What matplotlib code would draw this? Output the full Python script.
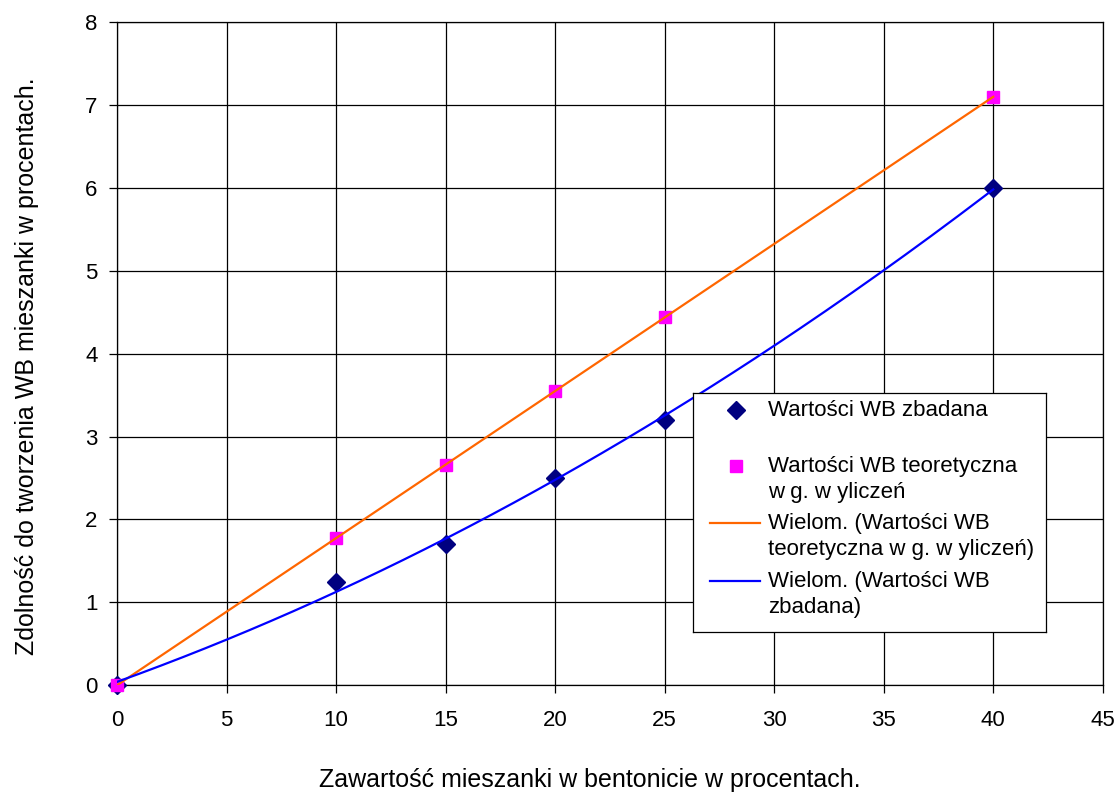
import matplotlib.pyplot as plt
from matplotlib.lines import Line2D
import numpy as np

plt.rcParams['font.family'] = ['Liberation Sans', 'DejaVu Sans']

# udzial bentonitu w mieszance [%]
x_zbad = [0, 10, 15, 20, 25, 40]
y_zbad = [0, 1.25, 1.7, 2.5, 3.2, 6.0]
x_teor = [0, 10, 15, 20, 25, 40]
y_teor = [0, 1.775, 2.6625, 3.55, 4.4375, 7.1]

lab_zbad = 'Wartości WB zbadana'
lab_teor = 'Wartości WB teoretyczna\nw g. w yliczeń'
lab_fit_teor = 'Wielom. (Wartości WB\nteoretyczna w g. w yliczeń)'
lab_fit_zbad = 'Wielom. (Wartości WB\nzbadana)'

c_zbad = '#000080'
c_teor = '#FF00FF'
c_fit_teor = '#FF6600'
c_fit_zbad = '#0000FF'

fs_tick = 16
fs_lab = 18
fs_leg = 16

fig = plt.figure(figsize=(11.15, 7.94), dpi=100)
ax = fig.add_axes([0.105, 0.137, 0.884, 0.835])

# trendline wielomianowa (2 stopnia), jak w Excelu
xx = np.linspace(0, 40, 200)
p_t = np.polyfit(x_teor, y_teor, 2)
p_z = np.polyfit(x_zbad, y_zbad, 2)

ax.plot(x_zbad, y_zbad, 'D', color=c_zbad, ms=9, zorder=3, clip_on=False)
ax.plot(x_teor, y_teor, 's', color=c_teor, ms=9, zorder=3, clip_on=False)
ax.plot(xx, np.polyval(p_t, xx), color=c_fit_teor, lw=1.6, zorder=4)
ax.plot(xx, np.polyval(p_z, xx), color=c_fit_zbad, lw=1.6, zorder=4)

ax.set_xlim(0, 45)
ax.set_ylim(0, 8)
ax.set_xticks(np.arange(0, 46, 5))
ax.set_yticks(np.arange(0, 9, 1))
ax.grid(True, color='black', lw=0.9)
ax.set_axisbelow(True)
for s in ax.spines.values():
    s.set_linewidth(0.9)
ax.tick_params(labelsize=fs_tick, length=6, width=0.9, direction='out')
ax.tick_params(axis='x', pad=12)
ax.tick_params(axis='y', pad=8)

fig.text(590 / 1115, 1 - 780 / 794, 'Zawartość mieszanki w bentonicie w procentach.',
         ha='center', va='center', fontsize=fs_lab)
fig.text(27 / 1115, 1 - 366 / 794, 'Zdolność do tworzenia WB mieszanki w procentach.',
         ha='center', va='center', rotation=90, fontsize=fs_lab)

# legenda rysowana recznie (znacznik przy pierwszej linii tekstu)
lg = fig.add_axes([693 / 1115, 1 - 632 / 794, 353 / 1115, 239 / 794])
lg.set_zorder(5)
lg.set_xlim(0, 353)
lg.set_ylim(239, 0)
lg.set_xticks([])
lg.set_yticks([])
lg.set_facecolor('white')
for s in lg.spines.values():
    s.set_linewidth(0.9)
lg.add_line(Line2D([43], [17], marker='D', color=c_zbad, ms=9, ls='none'))
lg.add_line(Line2D([43], [73], marker='s', color=c_teor, ms=9, ls='none'))
lg.add_line(Line2D([17, 67], [130, 130], color=c_fit_teor, lw=1.6))
lg.add_line(Line2D([17, 67], [188, 188], color=c_fit_zbad, lw=1.6))
rows = [(17, lab_zbad), (73, lab_teor), (130, lab_fit_teor), (188, lab_fit_zbad)]
for yy, txt in rows:
    lg.text(75, yy - 10, txt, fontsize=fs_leg, va='top', ha='left', linespacing=1.3)

fig.savefig('out.png', dpi=100)
